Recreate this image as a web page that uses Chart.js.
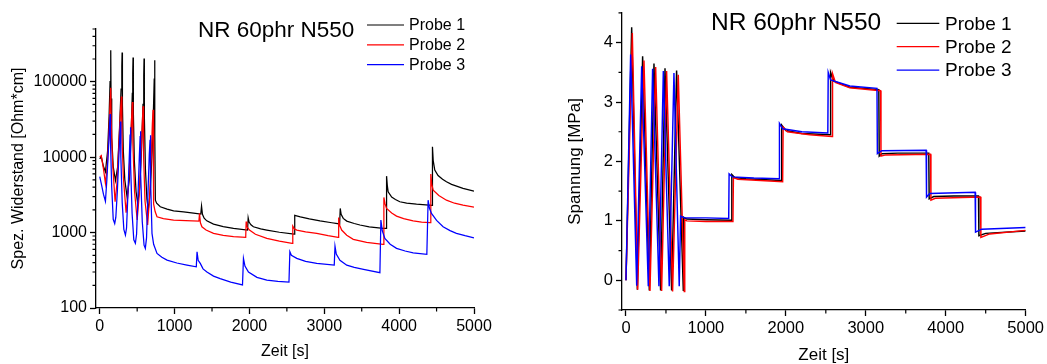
<!DOCTYPE html>
<html><head><meta charset="utf-8">
<script src="https://cdn.jsdelivr.net/npm/chart.js@4/dist/chart.umd.min.js"></script>
<style>
html,body{margin:0;padding:0;background:#fff;overflow:hidden}
#wrap{position:relative;width:1047px;height:364px;background:#fff}
#c1{position:absolute;left:0;top:0}
#c2{position:absolute;left:523px;top:0}
</style></head><body>
<div id="wrap"><canvas id="c1" width="523" height="364"></canvas><canvas id="c2" width="524" height="364"></canvas></div>
<script>
// ---------- shared ----------
const seriesLabels = ['Probe 1', 'Probe 2', 'Probe 3'];
const seriesColors = ['#000000', '#ff0000', '#0000ff'];
const chartTitle = 'NR 60phr N550';
const timeTicks = [0, 1000, 2000, 3000, 4000, 5000];
const timeMinorTicks = [500, 1500, 2500, 3500, 4500];

// ---------- left: specific resistance [Ohm*cm] ----------
const resTicks = [100, 1000, 10000, 100000];
const resMinorTicks = [200,300,400,500,600,700,800,900,2000,3000,4000,5000,6000,7000,8000,9000,
  20000,30000,40000,50000,60000,70000,80000,90000,200000,300000,400000,500000];

const resTime1 = [0,20,50,76,105,125,138,147,151,160,180,210,240,265,285,295,299,303,315,335,365,395,418,435,441,445,449,462,485,507,535,560,578,588,592,596,610,630,648,675,700,718,728,733,737,743,760,809,900,987,1120,1253,1350,1360,1372,1395,1430,1520,1650,1787,1975,1983,1995,2020,2053,2150,2232,2400,2597,2605,2630,2680,2800,2943,3100,3205,3213,3225,3253,3300,3400,3476,3600,3787,3825,3832,3842,3853,3900,3950,4009,4100,4232,4440,4445,4455,4476,4520,4580,4632,4700,4853,5000];
const resProbe1 = [9500,10200,7500,6400,12000,35000,100000,261000,60000,18000,7500,4900,7500,25000,80000,160000,244000,50000,12000,5000,2980,5000,18000,70000,130000,210000,40000,9000,3500,2440,4000,14000,50000,120000,203000,35000,7000,2800,1990,3500,12000,45000,110000,193000,20000,2690,2450,2200,2050,1945,1880,1810,1760,2244,1750,1550,1430,1295,1200,1137,1080,1571,1380,1270,1194,1120,1080,1010,955,1690,1670,1620,1520,1430,1350,1300,2090,1750,1542,1420,1320,1260,1190,1137,1137,5600,4200,3470,2950,2750,2560,2450,2380,2300,13700,9000,6730,5700,5100,4710,4350,3850,3550];

const resTime2 = [0,20,50,76,100,120,135,147,153,170,205,230,255,275,289,296,315,352,380,405,425,436,443,465,500,528,552,570,578,586,605,640,665,688,703,712,717,722,740,765,850,987,1150,1325,1333,1345,1365,1420,1520,1650,1787,1950,1956,1965,2000,2080,2232,2400,2570,2579,2600,2632,2750,2899,3050,3185,3192,3205,3232,3300,3387,3565,3785,3796,3812,3832,3900,3965,4060,4187,4300,4415,4423,4435,4455,4530,4632,4740,4853,5000];
const resProbe2 = [10000,10500,7000,4500,7500,18000,45000,83000,30000,9000,2560,4500,14000,38000,63700,20000,5500,1830,3500,11000,32000,54000,15000,3500,1470,3200,11000,30000,47300,10000,2600,1260,2800,10000,28000,42600,6000,2400,1900,1620,1530,1466,1440,1418,1795,1350,1194,1080,977,920,882,865,1400,1200,1080,950,837,770,720,1218,1120,1080,1020,977,910,865,1585,1250,1080,920,812,742,698,2925,2400,2090,1820,1652,1530,1432,1380,1350,5960,4400,3655,3100,2690,2450,2310,2180];

const resTime3 = [0,20,50,76,95,115,130,138,144,160,180,200,215,235,255,270,276,282,300,322,343,358,378,396,405,409,415,432,455,476,492,512,530,540,543,549,568,592,609,625,645,662,672,676,682,698,720,765,830,899,1030,1165,1290,1300,1315,1343,1380,1432,1520,1609,1750,1907,1920,1940,1987,2100,2232,2380,2528,2540,2560,2632,2750,2899,3133,3143,3160,3209,3300,3400,3524,3743,3756,3775,3809,3880,3965,4080,4187,4370,4387,4405,4432,4500,4587,4680,4765,4880,5000];
const resProbe3 = [5500,4500,3200,2600,5000,12000,25000,37200,15000,4000,1500,1320,1600,3500,10000,22000,29700,10000,2500,1100,927,1150,3500,11000,20000,24900,8000,1800,800,720,950,3300,11000,19000,22100,6000,1400,680,617,850,3500,11000,17000,19500,5000,975,700,530,470,432,395,371,352,557,430,390,330,300,265,245,220,202,455,360,300,255,235,226,221,557,500,455,415,390,371,660,520,430,370,345,325,294,1466,1050,837,700,617,570,540,514,2690,2100,1795,1450,1194,1060,977,910,853];

// ---------- right: stress [MPa] ----------
const stressTicks = [0, 1, 2, 3, 4];
const stressMinorTicks = [-0.5, 0.5, 1.5, 2.5, 3.5, 4.5];

const stressTime1 = [0,71,142,208,292,350,433,488,571,633,717,722,760,1000,1318,1324,1360,1500,1942,1948,2000,2200,2555,2560,2600,2800,3163,3168,3200,3400,3788,3793,3850,4100,4410,4415,4500,5000];
const stressProbe1 = [0,4.26,-0.16,3.77,-0.17,3.65,-0.17,3.57,-0.17,3.53,-0.17,1.06,1.03,1.02,1.01,1.78,1.73,1.71,1.68,2.61,2.52,2.47,2.45,3.50,3.35,3.25,3.21,2.09,2.13,2.14,2.14,1.37,1.41,1.42,1.42,0.75,0.79,0.83];

const stressTime2 = [0,79,146,225,300,371,446,508,583,654,729,735,760,1000,1338,1344,1400,1960,1966,2020,2300,2578,2584,2620,2800,3185,3190,3250,3810,3815,3870,4435,4440,4550,5000];
const stressProbe2 = [0,4.16,-0.16,3.70,-0.18,3.59,-0.18,3.52,-0.19,3.46,-0.19,1.02,1.00,0.99,0.99,1.73,1.70,1.66,2.58,2.50,2.45,2.42,3.48,3.33,3.24,3.19,2.09,2.11,2.12,1.35,1.38,1.40,0.72,0.78,0.84];

const stressTime3 = [0,58,134,196,279,333,412,467,541,600,666,683,730,1000,1285,1290,1330,1600,1915,1920,1960,2200,2525,2530,2560,2800,3140,3145,3200,3755,3760,3800,4368,4373,4450,5000];
const stressProbe3 = [0,3.80,-0.09,3.60,-0.10,3.56,-0.10,3.52,-0.10,3.49,-0.10,1.08,1.05,1.05,1.04,1.79,1.74,1.72,1.71,2.64,2.55,2.50,2.48,3.50,3.37,3.27,3.23,2.13,2.18,2.19,1.40,1.46,1.48,0.81,0.86,0.89];

// ---------- helpers ----------
const FONT = "'Liberation Sans', Arial, Helvetica, sans-serif";
function pts(t, v) { return t.map((x, i) => ({ x: x, y: v[i] })); }
function makeDatasets(times, values, lw) {
  return times.map((t, i) => ({
    label: seriesLabels[i], data: pts(t, values[i]),
    borderColor: seriesColors[i], backgroundColor: seriesColors[i],
    borderWidth: lw, pointRadius: 0, tension: 0, fill: false, order: 3 - i
  }));
}

const minorTickPlugin = {
  id: 'minorTicks',
  afterDraw(chart, args, o) {
    const ctx = chart.ctx, a = chart.chartArea;
    ctx.save(); ctx.strokeStyle = '#000'; ctx.lineWidth = 1.2;
    ctx.beginPath();
    (o.x || []).forEach(v => {
      const p = chart.scales.x.getPixelForValue(v);
      ctx.moveTo(p, a.bottom); ctx.lineTo(p, a.bottom + 3.5);
    });
    (o.y || []).forEach(v => {
      const p = chart.scales.y.getPixelForValue(v);
      ctx.moveTo(a.left, p); ctx.lineTo(a.left - 3.5, p);
    });
    ctx.stroke(); ctx.restore();
  }
};

const headerPlugin = {
  id: 'header',
  afterDraw(chart, args, o) {
    const ctx = chart.ctx;
    ctx.save();
    ctx.fillStyle = '#000'; ctx.textBaseline = 'middle'; ctx.textAlign = 'left';
    ctx.font = o.titleSize + 'px ' + FONT;
    ctx.fillText(chartTitle, o.titleX, o.titleY);
    ctx.font = o.legendSize + 'px ' + FONT;
    chart.data.datasets.forEach((ds, i) => {
      const y = o.legendY + i * o.legendGap;
      ctx.strokeStyle = ds.borderColor; ctx.lineWidth = 1.2;
      ctx.beginPath(); ctx.moveTo(o.lineX1, y); ctx.lineTo(o.lineX2, y); ctx.stroke();
      ctx.fillText(ds.label, o.textX, y + 1);
    });
    ctx.restore();
  }
};

function axisCommon(size) {
  return {
    border: { display: true, color: '#000', width: 1.3 },
    grid: { display: true, drawOnChartArea: false, drawTicks: true, tickLength: 6, color: '#000', tickWidth: 1.3 },
    ticks: { color: '#000', font: { family: FONT, size: size }, maxRotation: 0, autoSkip: false, callback: v => String(v) }
  };
}

function buildChart(canvasId, cfg) {
  const xc = axisCommon(cfg.tickSize), yc = axisCommon(cfg.tickSize);
  return new Chart(document.getElementById(canvasId), {
    type: 'line',
    data: { datasets: makeDatasets(cfg.times, cfg.values, cfg.lineWidth) },
    options: {
      responsive: false, animation: false, devicePixelRatio: 1,
      layout: { padding: { top: cfg.padTop, right: cfg.padRight, left: 0, bottom: 0 } },
      plugins: {
        legend: { display: false }, tooltip: { enabled: false },
        minorTicks: { x: timeMinorTicks, y: cfg.yMinor },
        header: cfg.header
      },
      scales: {
        x: Object.assign(xc, {
          type: 'linear', min: -50, max: 5000, bounds: 'data',
          afterBuildTicks: s => { s.ticks = timeTicks.map(v => ({ value: v })); },
          afterFit: s => { s.height = cfg.xHeight; },
          title: { display: true, text: 'Zeit [s]', color: '#000', font: { family: FONT, size: cfg.titleSize, lineHeight: 1 }, padding: { top: 0, bottom: cfg.xTitlePad } }
        }),
        y: Object.assign(yc, {
          type: cfg.yType, min: cfg.yMin, max: cfg.yMax, bounds: 'data',
          afterBuildTicks: s => { s.ticks = cfg.yTicks.map(v => ({ value: v })); },
          afterFit: s => { s.width = cfg.yWidth; },
          title: { display: true, text: cfg.yTitle, color: '#000', font: { family: FONT, size: cfg.titleSize, lineHeight: 1 }, padding: { top: cfg.yTitlePad, bottom: 0 } }
        })
      }
    },
    plugins: [minorTickPlugin, headerPlugin]
  });
}
buildChart('c1', {
  times: [resTime1, resTime2, resTime3], values: [resProbe1, resProbe2, resProbe3], lineWidth: 1.25,
  tickSize: 16, titleSize: 16, padTop: 29, padRight: 49, xHeight: 56, yWidth: 96,
  xTitlePad: 4, yTitlePad: 11,
  yType: 'logarithmic', yMin: 100, yMax: 500000, yTicks: resTicks, yMinor: resMinorTicks,
  yTitle: 'Spez. Widerstand [Ohm*cm]',
  header: { titleSize: 22.5, titleX: 198, titleY: 31, legendSize: 16, legendY: 25, legendGap: 19.8, lineX1: 367, lineX2: 404, textX: 409 }
});
buildChart('c2', {
  times: [stressTime1, stressTime2, stressTime3], values: [stressProbe1, stressProbe2, stressProbe3], lineWidth: 1.45,
  tickSize: 16.5, titleSize: 17, padTop: 12, padRight: 21, xHeight: 54, yWidth: 99,
  xTitlePad: 0.5, yTitlePad: 44,
  yType: 'linear', yMin: -0.5, yMax: 4.5, yTicks: stressTicks, yMinor: stressMinorTicks,
  yTitle: 'Spannung [MPa]',
  header: { titleSize: 24.5, titleX: 188, titleY: 23.5, legendSize: 19, legendY: 23.3, legendGap: 23.4, lineX1: 373.7, lineX2: 416.3, textX: 422 }
});
</script>
</body></html>
